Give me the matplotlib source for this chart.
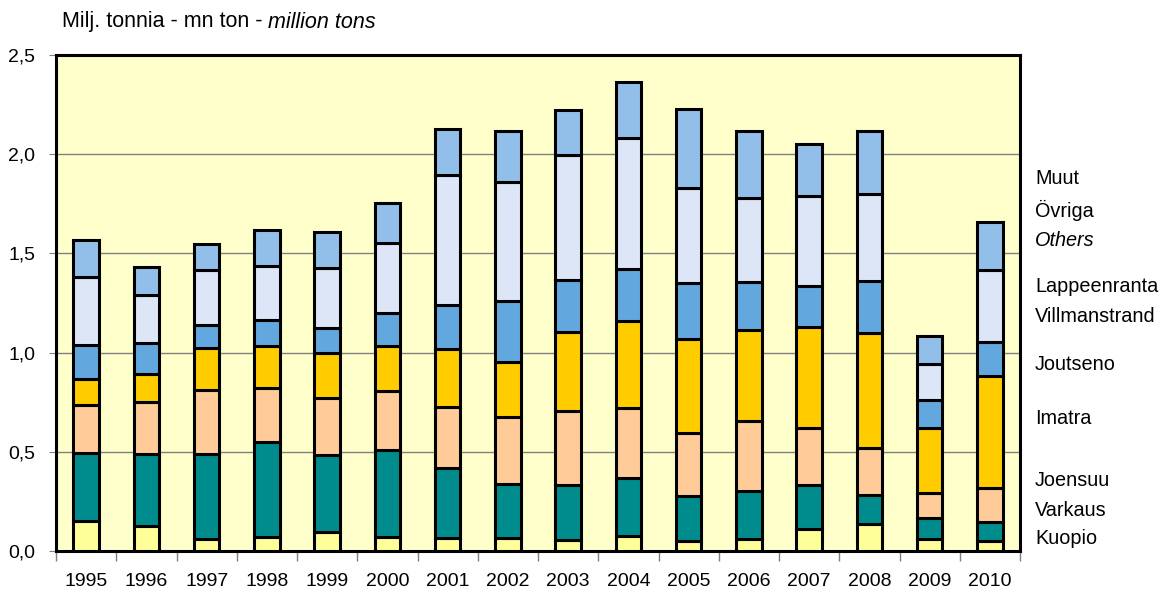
import numpy as np
import matplotlib
matplotlib.use('Agg')
import matplotlib.pyplot as plt
from matplotlib.ticker import FuncFormatter, FixedLocator
from matplotlib.transforms import offset_copy

plt.rcParams['font.family'] = ['Liberation Sans', 'DejaVu Sans']

years = ['1995', '1996', '1997', '1998', '1999', '2000', '2001', '2002',
         '2003', '2004', '2005', '2006', '2007', '2008', '2009', '2010']

# million tons per harbour / group, bottom to top
kuopio = [0.151, 0.128, 0.060, 0.069, 0.094, 0.072, 0.067, 0.067,
          0.055, 0.076, 0.052, 0.059, 0.111, 0.134, 0.059, 0.050]
varkaus = [0.341, 0.360, 0.428, 0.478, 0.389, 0.437, 0.349, 0.270,
           0.277, 0.290, 0.225, 0.243, 0.221, 0.148, 0.109, 0.094]
joensuu = [0.243, 0.264, 0.323, 0.272, 0.289, 0.297, 0.308, 0.339,
           0.375, 0.356, 0.320, 0.354, 0.286, 0.235, 0.122, 0.175]
imatra = [0.131, 0.138, 0.210, 0.213, 0.227, 0.226, 0.292, 0.274,
          0.397, 0.436, 0.470, 0.457, 0.512, 0.579, 0.331, 0.562]
joutseno = [0.171, 0.159, 0.117, 0.131, 0.127, 0.165, 0.226, 0.310,
            0.264, 0.262, 0.284, 0.243, 0.206, 0.265, 0.139, 0.173]
lappeenranta = [0.344, 0.243, 0.280, 0.274, 0.302, 0.355, 0.655, 0.600,
                0.629, 0.661, 0.478, 0.423, 0.453, 0.440, 0.180, 0.364]
muut = [0.185, 0.140, 0.131, 0.179, 0.177, 0.202, 0.228, 0.255,
        0.224, 0.282, 0.397, 0.336, 0.264, 0.314, 0.143, 0.240]

series = [kuopio, varkaus, joensuu, imatra, joutseno, lappeenranta, muut]
colors = ['#FFFF99', '#008C8C', '#FFCC99', '#FFCC00', '#62A8DE', '#DCE6F6', '#92BFE9']

fig = plt.figure(figsize=(11.62, 5.97), dpi=100)
ax = fig.add_axes([0.0482, 0.0771, 0.8296, 0.831])
ax.set_facecolor('#FFFFCC')

x = np.arange(len(years))
bottom = np.zeros(len(years))
for vals, c in zip(series, colors):
    ax.bar(x, vals, width=0.42, bottom=bottom, color=c, edgecolor='black',
           linewidth=2.2, zorder=3)
    bottom += np.array(vals)

ax.set_xlim(-0.5, len(years) - 0.5)
ax.set_ylim(0, 2.5)
ax.set_yticks(np.arange(0, 2.51, 0.5))
ax.yaxis.set_major_formatter(FuncFormatter(lambda v, p: f'{v:.1f}'.replace('.', ',')))
ax.grid(axis='y', color='#808080', linewidth=1.0, zorder=1)

ax.set_xticks(x)
ax.set_xticklabels(years)
ax.xaxis.set_minor_locator(FixedLocator(np.arange(-0.5, len(years), 1.0)))
ax.tick_params(axis='x', which='major', length=0, labelsize=14, pad=16)
ax.tick_params(axis='x', which='minor', length=7, color='#808080', width=1)
ax.tick_params(axis='y', length=5, color='#808080', labelsize=14, pad=10)

for s in ax.spines.values():
    s.set_linewidth(2.2)
    s.set_color('black')

t1 = fig.text(62 / 1162, 1 - 22 / 597, 'Milj. tonnia - mn ton - ', fontsize=15.5, va='center')
fig.canvas.draw()
w = t1.get_window_extent().width
fig.text(62 / 1162, 1 - 22 / 597, 'million tons', fontsize=15.5, va='center', style='italic',
         transform=offset_copy(fig.transFigure, fig=fig, x=w, y=0, units='dots'))

labels = [('Muut', 179, 'normal'), ('Övriga', 210, 'normal'), ('Others', 240, 'italic'),
          ('Lappeenranta', 287, 'normal'), ('Villmanstrand', 317, 'normal'),
          ('Joutseno', 364, 'normal'), ('Imatra', 418, 'normal'),
          ('Joensuu', 480, 'normal'), ('Varkaus', 511, 'normal'), ('Kuopio', 538, 'normal')]
for txt, py, st in labels:
    fig.text(1035 / 1162, 1 - py / 597, txt, fontsize=14.3, va='center', style=st)

fig.savefig('out.png', dpi=100)
